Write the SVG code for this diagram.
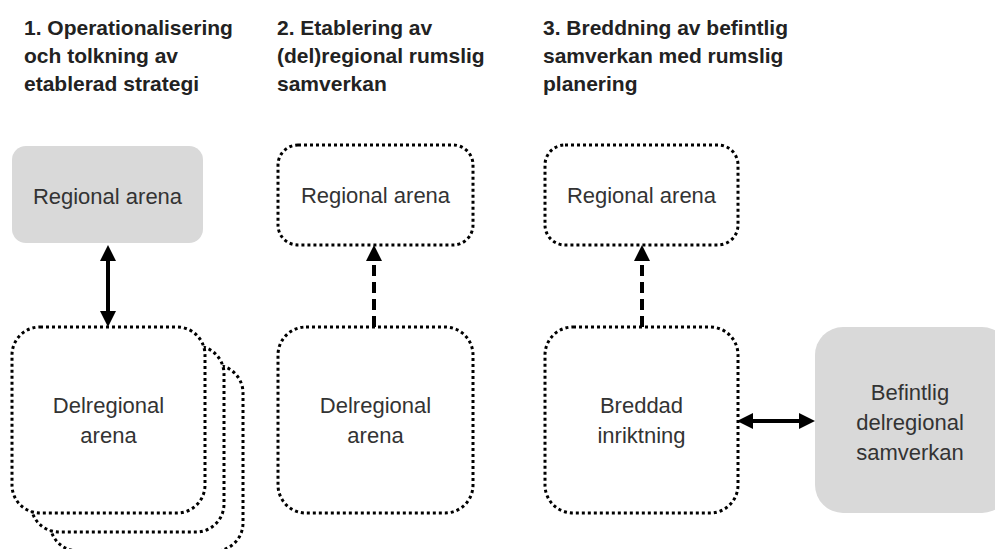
<svg xmlns="http://www.w3.org/2000/svg" width="995" height="549" viewBox="0 0 995 549">
  <style>
    .title { font-family: "Liberation Sans", Arial, sans-serif; font-weight: bold; font-size: 21px; fill: #222222; }
    .label { font-family: "Liberation Sans", Arial, sans-serif; font-size: 22px; fill: #333333; text-anchor: middle; }
    .dotted { fill: #ffffff; stroke: #000000; stroke-width: 3; stroke-dasharray: 3 3; }
    .grey { fill: #d9d9d9; stroke: none; }
    .conn { stroke: #000000; stroke-width: 4; fill: none; }
    .dashed { stroke-dasharray: 11 6; }
  </style>
  <defs>
    <marker id="head" viewBox="0 0 16 16" refX="0" refY="8" markerWidth="16" markerHeight="16" markerUnits="userSpaceOnUse" orient="auto-start-reverse">
      <path d="M0,0 L16,8 L0,16 Z" fill="#000000"/>
    </marker>
  </defs>

  <g id="titles">
    <text class="title" x="24" y="35">1. Operationalisering</text>
    <text class="title" x="24" y="63">och tolkning av</text>
    <text class="title" x="24" y="91">etablerad strategi</text>
    <text class="title" x="277" y="35">2. Etablering av</text>
    <text class="title" x="277" y="63">(del)regional rumslig</text>
    <text class="title" x="277" y="91">samverkan</text>
    <text class="title" x="543" y="35">3. Breddning av befintlig</text>
    <text class="title" x="543" y="63">samverkan med rumslig</text>
    <text class="title" x="543" y="91">planering</text>
  </g>

  <g id="p1-regional">
    <rect class="grey" x="12" y="146" width="191" height="97" rx="14"/>
    <text class="label" x="107.5" y="204">Regional arena</text>
  </g>

  <g id="p1-delregional">
    <rect class="dotted" x="50" y="365" width="193" height="186" rx="28"/>
    <rect class="dotted" x="31" y="346" width="193" height="186" rx="28"/>
    <rect class="dotted" x="12" y="327" width="193" height="186" rx="28"/>
    <text class="label" x="108.5" y="413">Delregional</text>
    <text class="label" x="108.5" y="443">arena</text>
  </g>

  <g id="p2-regional">
    <rect class="dotted" x="278" y="145" width="195" height="100" rx="20"/>
    <text class="label" x="375.5" y="203">Regional arena</text>
  </g>

  <g id="p2-delregional">
    <rect class="dotted" x="278" y="327" width="195" height="186" rx="28"/>
    <text class="label" x="375.5" y="413">Delregional</text>
    <text class="label" x="375.5" y="443">arena</text>
  </g>

  <g id="p3-regional">
    <rect class="dotted" x="545" y="145" width="193" height="100" rx="20"/>
    <text class="label" x="641.5" y="203">Regional arena</text>
  </g>

  <g id="p3-breddad">
    <rect class="dotted" x="545" y="327" width="193" height="186" rx="28"/>
    <text class="label" x="641.5" y="413">Breddad</text>
    <text class="label" x="641.5" y="443">inriktning</text>
  </g>

  <g id="p3-befintlig">
    <rect class="grey" x="815" y="327" width="195" height="186" rx="28"/>
    <text class="label" x="910" y="400">Befintlig</text>
    <text class="label" x="910" y="430">delregional</text>
    <text class="label" x="910" y="460">samverkan</text>
  </g>

  <g id="connectors">
    <path class="conn" d="M108,261 L108,311" marker-start="url(#head)" marker-end="url(#head)"/>
    <path class="conn dashed" d="M374,327 L374,261" marker-end="url(#head)"/>
    <path class="conn dashed" d="M642,327 L642,261" marker-end="url(#head)"/>
    <path class="conn" d="M753,421 L799,421" marker-start="url(#head)" marker-end="url(#head)"/>
  </g>
</svg>
